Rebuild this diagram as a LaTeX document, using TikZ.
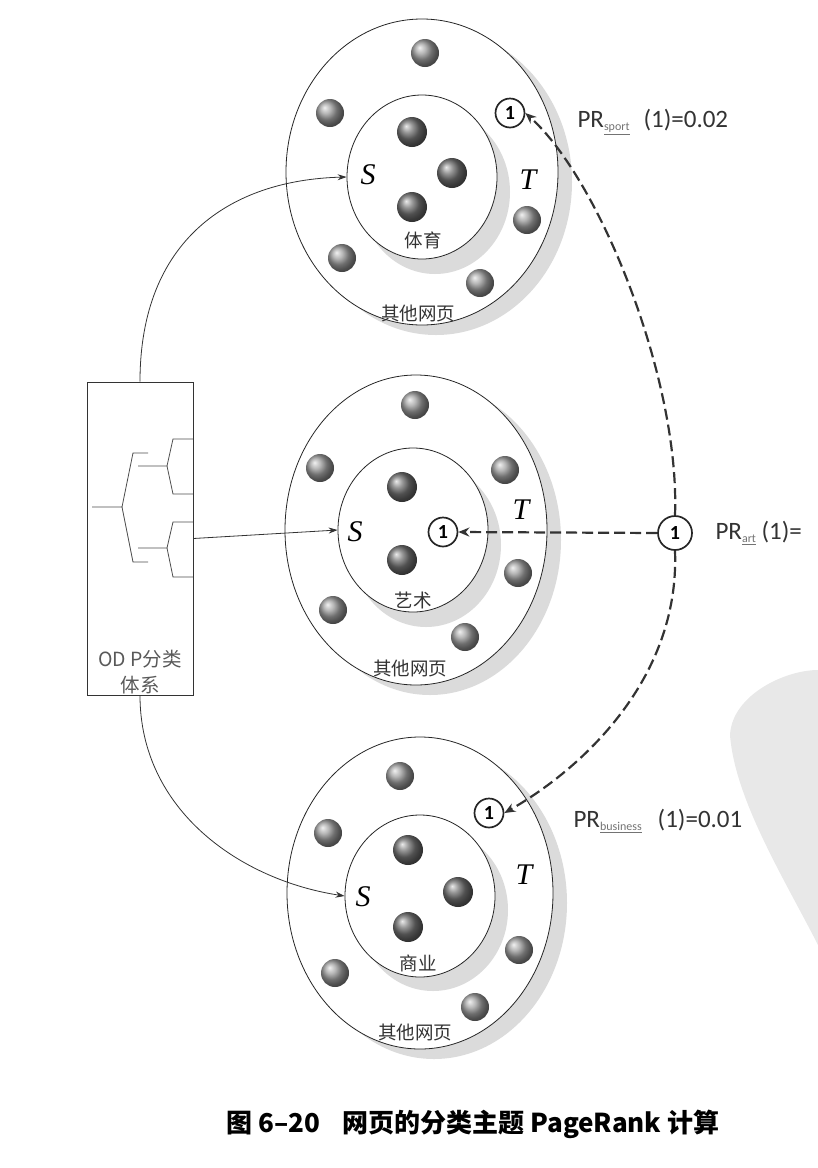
\documentclass[tikz,border=0pt]{standalone}
\usepackage{fontspec}
\usetikzlibrary{shapes.geometric,arrows.meta}
\newfontfamily\cjk{Noto Sans CJK SC}
\newfontfamily\lab{Carlito}
\newfontfamily\ser{Liberation Serif}
\newcommand{\prsub}[1]{\raisebox{-3pt}{\fontsize{12}{12}\selectfont\color{black!55}\underline{#1}}}
\begin{document}
\begin{tikzpicture}[x=1pt,y=-1pt,
  shadowfill/.style={fill=black!14},
  outerE/.style={ellipse, draw=black!85, line width=0.8pt, fill=white, inner sep=0pt},
  innerE/.style={ellipse, draw=black!85, line width=0.8pt, fill=white, inner sep=0pt, minimum width=150pt, minimum height=164pt},
  ballin/.style={circle, minimum size=30pt, inner sep=0pt, ball color=black!55},
  ballout/.style={circle, minimum size=28pt, inner sep=0pt, ball color=black!38},
  onec/.style={circle, draw=black!85, line width=1.7pt, fill=white, minimum size=29pt, inner sep=0pt, font=\lab\bfseries\fontsize{20}{20}\selectfont},
  setlab/.style={font=\ser\itshape\fontsize{30}{30}\selectfont},
  cnlab/.style={font=\cjk\fontsize{18.5}{20}\selectfont, text=black!80},
  prlab/.style={font=\lab\fontsize{25}{27}\selectfont, text=black!80, anchor=west},
  solidarr/.style={draw=black!80, line width=0.8pt, -{Stealth[length=9pt,width=6pt]}},
  dasharr/.style={draw=black!80, line width=2.2pt, dash pattern=on 11pt off 5pt, -{Stealth[length=11pt,width=9pt]}}
]
\useasboundingbox (0,0) rectangle (818,1168);

% watermark
\fill[black!9] (818,670) .. controls (785,670) and (732,695) .. (730,735)
  .. controls (735,800) and (785,880) .. (818,945) -- cycle;

% ---------- top cluster ----------
\fill[shadowfill] (436,182) ellipse [x radius=136pt, y radius=153pt];
\node[outerE, minimum width=272pt, minimum height=306pt] (oT) at (422,172) {};
\fill[shadowfill] (435,192) ellipse [x radius=75pt, y radius=82pt];
\node[innerE] (iT) at (422,177) {};
\foreach \n/\p in {a/{(425,53)},b/{(330,113)},c/{(527,220)},d/{(342,258)},e/{(480,283)}}
  \node[ballout] (tO\n) at \p {};
\foreach \n/\p in {a/{(412,132)},b/{(452,173)},c/{(412,207)}}
  \node[ballin] (tI\n) at \p {};
\node[onec] (t1) at (510,113) {1};
\node[setlab] (tS) at (368,175) {S};
\node[setlab] (tT) at (528,180) {T};
\node[cnlab] (tN) at (423,240) {体育};
\node[cnlab] (tR) at (418,313) {其他网页};
\node[prlab] (tPR) at (574,122) {PR\prsub{sport}\hspace{14pt}(1)=0.02};

% ---------- middle cluster ----------
\fill[shadowfill] (430,540) ellipse [x radius=131pt, y radius=155pt];
\node[outerE, minimum width=262pt, minimum height=310pt] (oM) at (416,530) {};
\fill[shadowfill] (426,545) ellipse [x radius=75pt, y radius=82pt];
\node[innerE] (iM) at (413,530) {};
\foreach \n/\p in {a/{(415,405)},b/{(320,468)},c/{(505,470)},d/{(518,573)},e/{(333,610)},f/{(465,637)}}
  \node[ballout] (mO\n) at \p {};
\foreach \n/\p in {a/{(402,487)},b/{(402,560)}}
  \node[ballin] (mI\n) at \p {};
\node[onec] (m1) at (443,532) {1};
\node[setlab] (mS) at (355,532) {S};
\node[setlab] (mT) at (521,510) {T};
\node[cnlab] (mN) at (413,600) {艺术};
\node[cnlab] (mR) at (410,668) {其他网页};
\node[onec, minimum size=34pt] (r1) at (675,533) {1};
\node[prlab] (mPR) at (712,533) {PR\prsub{art} (1)=};

% ---------- bottom cluster ----------
\fill[shadowfill] (434,903) ellipse [x radius=133pt, y radius=156pt];
\node[outerE, minimum width=266pt, minimum height=312pt] (oB) at (420,893) {};
\fill[shadowfill] (433,910) ellipse [x radius=75pt, y radius=81pt];
\node[innerE, minimum height=162pt] (iB) at (420,896) {};
\foreach \n/\p in {a/{(400,776)},b/{(328,833)},c/{(519,950)},d/{(335,973)},e/{(475,1007)}}
  \node[ballout] (bO\n) at \p {};
\foreach \n/\p in {a/{(408,850)},b/{(458,892)},c/{(408,927)}}
  \node[ballin] (bI\n) at \p {};
\node[onec] (b1) at (489,813) {1};
\node[setlab] (bS) at (363,897) {S};
\node[setlab] (bT) at (524,875) {T};
\node[cnlab] (bN) at (418,963) {商业};
\node[cnlab] (bR) at (415,1032) {其他网页};
\node[prlab] (bPR) at (570,821) {PR\prsub{business}\hspace{16pt}(1)=0.01};

% ---------- ODP box ----------
\node[draw=black!80, line width=0.8pt, minimum width=106pt, minimum height=313pt, inner sep=0pt] (odp) at (140,538.5) {};
\node[cnlab, align=center, text=black!65, font=\cjk\fontsize{19.5}{26}\selectfont] (odpT) at (140,672) {OD P分类\\体系};
\begin{scope}[draw=black!70, line width=0.8pt]
  \draw (92,507) -- (122,507) -- (133,453) -- (148,453);
  \draw (122,507) -- (133,562) -- (148,562);
  \draw (138,466) -- (167,466) -- (173,439) -- (193,439);
  \draw (167,466) -- (173,494) -- (193,494);
  \draw (138,548) -- (167,548) -- (173,522) -- (193,522);
  \draw (167,548) -- (173,577) -- (193,577);
\end{scope}

% ---------- connectors ----------
\draw[solidarr] (odp.north) .. controls (140,240) and (230,180) .. (iT.west);
\draw[solidarr] (odp.east) -- (iM.west);
\draw[solidarr] (odp.south) .. controls (140,810) and (240,880) .. (iB.west);

\draw[dasharr] (r1.north) .. controls (680,380) and (600,180) .. (t1.east);
\draw[dasharr] (r1.west) -- (m1.east);
\draw[dasharr] (r1.south) .. controls (680,680) and (580,770) .. (b1.east);

% ---------- caption ----------
\node[font=\cjk\bfseries\fontsize{26}{28}\selectfont] (cap) at (473,1124) {图 6–20\hspace{22pt}网页的分类主题 PageRank 计算};
\end{tikzpicture}
\end{document}
